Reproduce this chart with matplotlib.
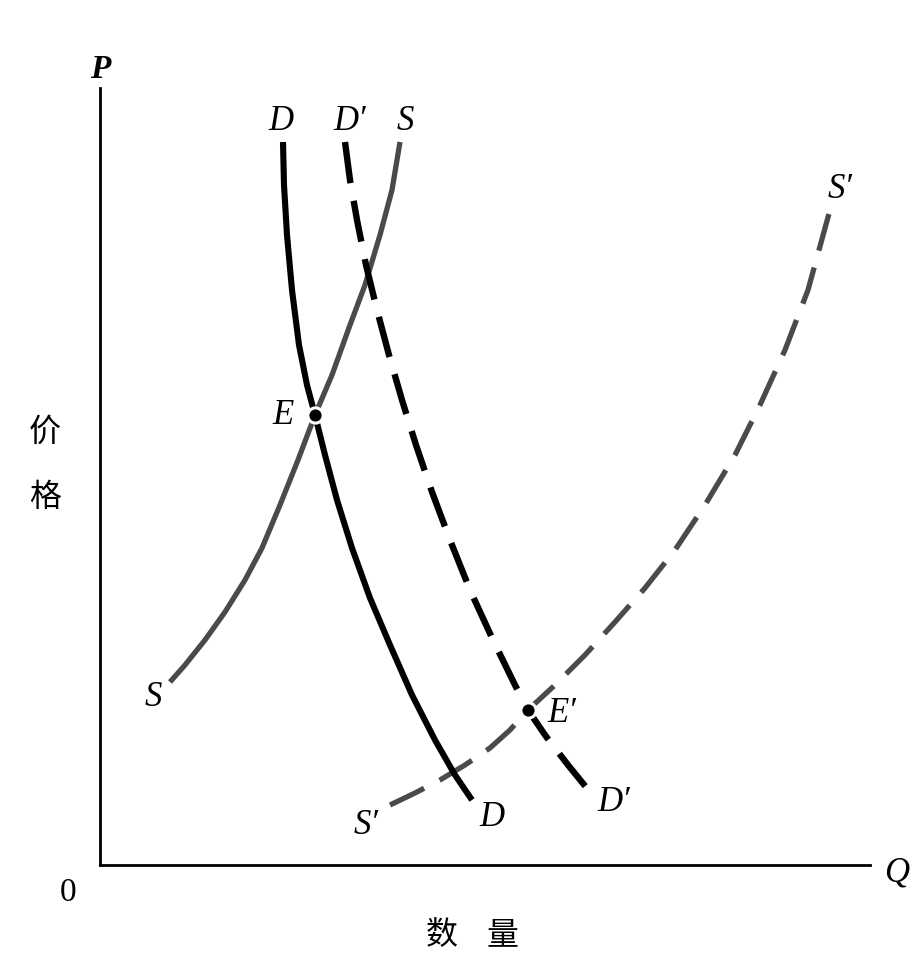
import matplotlib
matplotlib.use("Agg")
import matplotlib.pyplot as plt
import numpy as np

# ---- data (Q and P in picture units, origin at 0) ----
X0, Y0 = 100, 865  # pixel origin used only to convert read values

d_px = [(283,142),(284,185),(287,235),(292,290),(299,345),(307,385),(315,415),
        (325,455),(337,500),(352,548),(370,598),(390,645),(412,695),(435,740),
        (455,775),(472,800)]
d2_px = [(345,142),(350,180),(357,220),(366,265),(377,310),(389,355),(402,400),
         (416,445),(432,492),(450,540),(470,590),(493,640),(515,685),(528,710),
         (545,735),(568,765),(590,792)]
s_px = [(170,682),(185,665),(205,640),(225,612),(245,580),(262,548),(280,505),
        (298,460),(315,415),(332,375),(350,325),(365,285),(380,235),(392,190),
        (400,142)]
s2_px = [(390,805),(415,793),(440,780),(465,765),(490,748),(510,730),(528,710),
         (555,685),(585,655),(615,622),(645,588),(675,550),(705,505),(735,455),
         (760,405),(785,350),(808,290),(830,210)]
eq_px = [(315,415),(528,710)]

def conv(pts):
    a = np.array(pts, dtype=float)
    return a[:,0]-X0, Y0-a[:,1]

D_q, D_p = conv(d_px)
D2_q, D2_p = conv(d2_px)
S_q, S_p = conv(s_px)
S2_q, S2_p = conv(s2_px)
E_q, E_p = conv(eq_px)

W, H = 922, 963
fig = plt.figure(figsize=(W/100, H/100), dpi=100)
ax = fig.add_axes([X0/W, (H-Y0)/H, (870-X0)/W, (Y0-88)/H])
ax.set_xlim(0, 870-X0)
ax.set_ylim(0, Y0-88)
for s in ["top","right"]:
    ax.spines[s].set_visible(False)
for s in ["left","bottom"]:
    ax.spines[s].set_linewidth(2.0)
    ax.spines[s].set_color("black")
ax.set_xticks([]); ax.set_yticks([])

ax.plot(S_q, S_p, color="#4a4a4a", lw=3.8, solid_capstyle="butt",
        solid_joinstyle="round", zorder=2)
ax.plot(S2_q, S2_p, color="#4a4a4a", lw=3.8, dashes=(7.2, 3.3),
        dash_capstyle="butt", zorder=2)
ax.plot(D_q, D_p, color="black", lw=4.4, solid_capstyle="butt",
        solid_joinstyle="round", zorder=3)
ax.plot(D2_q, D2_p, color="black", lw=4.6, dashes=(6.5, 2.8),
        dash_capstyle="butt", zorder=3)
ax.plot(E_q, E_p, "o", color="black", ms=11, mec="white", mew=2.2, ls="none", zorder=5)

it = dict(family="Liberation Serif", style="italic", fontsize=25, ha="center", va="center")
def lab(x, y, t, **kw):
    d = dict(it); d.update(kw)
    ax.text(x-X0, Y0-y, t, clip_on=False, **d)

lab(281,122,"D"); lab(350,122,"D′"); lab(405,122,"S")
lab(283,415,"E"); lab(562,713,"E′")
lab(153,697,"S"); lab(366,825,"S′"); lab(492,817,"D"); lab(614,802,"D′")
lab(840,190,"S′")
lab(100,70,"P", fontweight="bold", fontsize=24)
lab(897,873,"Q")
ax.text(68-X0, Y0-893, "0", family="Liberation Serif", fontsize=24,
        ha="center", va="center", clip_on=False)

cjk = dict(family=["Noto Sans CJK SC","DejaVu Sans"], fontsize=23,
           fontweight="medium", ha="center", va="center")
ax.text(45-X0, Y0-432, "价", clip_on=False, **cjk)
ax.text(45-X0, Y0-497, "格", clip_on=False, **cjk)
ax.text(442-X0, Y0-935, "数", clip_on=False, **cjk)
ax.text(502-X0, Y0-935, "量", clip_on=False, **cjk)

fig.savefig("out.png", dpi=100, facecolor="white")
